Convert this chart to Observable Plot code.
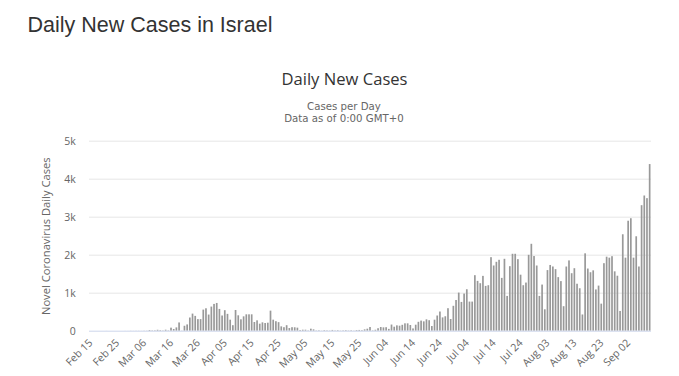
<!DOCTYPE html>
<html><head><meta charset="utf-8">
<script src="https://cdn.jsdelivr.net/npm/d3@7"></script>
<script src="https://cdn.jsdelivr.net/npm/@observablehq/plot@0.6"></script>
<style>
body{margin:0;background:#fff;}
#wrap{position:relative;width:679px;height:376px;overflow:hidden;}
#head{position:relative;height:130px;}
.t{position:absolute;white-space:nowrap;}
#title{left:27.5px;top:11.5px;font:21.5px/26px "Liberation Sans",Arial,sans-serif;color:#333;}
#ctitle{left:0;width:689px;text-align:center;top:68.5px;font:16.6px/20px "Open Sans",sans-serif;color:#333;}
.sub{left:0;width:688px;height:12px;text-align:center;font:10.2px/12px "DejaVu Sans",sans-serif;color:#666;}
#sub1{top:101px;}
#sub2{top:113px;}
#chart svg{display:block;}
</style></head>
<body>
<div id="wrap">
  <div id="head">
    <div class="t" id="title">Daily New Cases in Israel</div>
    <div class="t" id="ctitle">Daily New Cases</div>
    <div class="t sub" id="sub1">Cases per Day</div>
    <div class="t sub" id="sub2">Data as of 0:00 GMT+0</div>
  </div>
  <div id="chart"></div>
</div>
<script>
// Daily new cases by month (2020)
const febCases = [0,0,0,0,0,0,1,0,0,0,0,0,0,1,1]; // Feb 15-29
const marCases = [3,2,3,3,2,4,4,18,10,11,24,15,8,26,10,80,45,87,217,5,130,165,347,450,390,305,305,555,590,425,635];
const aprCases = [705,730,573,400,540,443,290,145,545,405,300,378,431,431,431,229,273,185,220,202,211,528,290,250,225,114,92,145,70,92];
const mayCases = [90,80,18,26,26,9,53,35,8,12,5,15,10,7,20,9,14,6,10,15,8,12,5,17,20,15,35,53,97,10,25];
const junCases = [65,97,88,92,48,162,105,141,132,155,194,194,150,60,158,234,266,246,299,276,123,290,400,505,350,380,592,308,655,808];
const julCases = [1003,757,977,1091,766,766,1461,1311,1250,1443,1179,1197,1935,1716,1813,1866,1390,1892,915,1698,2024,2024,1883,1474,1197,1267,1997,2287,1965,1716,915];
const augCases = [1214,563,1595,1730,1690,1620,1410,1305,645,1689,1850,1513,1645,1236,1117,427,2036,1636,1539,1588,1086,1187,712,1777,1948,1922,1961,1562,1447,519,2538];
const sepCases = [1922,2894,2960,1922,2485,1690,3303,3558,3488,4385]; // Sep 1-10

const xTickLabels = ["Feb 15","Feb 25","Mar 06","Mar 16","Mar 26","Apr 05","Apr 15","Apr 25","May 05","May 15","May 25","Jun 04","Jun 14","Jun 24","Jul 04","Jul 14","Jul 24","Aug 03","Aug 13","Aug 23","Sep 02"];
const yTicks = [0,1000,2000,3000,4000,5000];
const yTickLabels = ["0","1k","2k","3k","4k","5k"];

const cases = [...febCases,...marCases,...aprCases,...mayCases,...junCases,...julCases,...augCases,...sepCases];
const fmt = d3.utcFormat("%b %d");
const days = d3.utcDay.range(new Date(Date.UTC(2020,1,15)), new Date(Date.UTC(2020,8,11))).map(fmt);
const data = days.map((d,i) => ({day: d, cases: cases[i]}));

const chart = Plot.plot({
  width: 679,
  height: 246,
  marginTop: 10.7,
  marginBottom: 45.3,
  marginLeft: 89,
  marginRight: 28,
  style: {fontFamily: "'Open Sans', sans-serif", fontSize: "10.5px", color: "#666", background: "transparent"},
  x: {type: "band", domain: days, padding: 0, axis: null},
  y: {domain: [0, 5000], axis: null},
  marks: [
    Plot.gridY({ticks: yTicks.slice(1), stroke: "#e6e6e6", strokeOpacity: 1}),
    Plot.barY(data, {x: "day", y: "cases", fill: "#999", insetLeft: 0.5, insetRight: 0.5}),
    Plot.ruleY([0], {stroke: "#ccd6eb"}),
    Plot.axisY({ticks: yTicks, tickFormat: d => yTickLabels[yTicks.indexOf(d)], tickSize: 0, tickPadding: 13.7, label: null, fill: "#666"}),
    Plot.axisX({ticks: xTickLabels, tickRotate: -45, tickSize: 0, tickPadding: 10, label: null, fill: "#666"}),
    Plot.text(["Novel Coronavirus Daily Cases"], {frameAnchor: "left", dx: -43.3, rotate: -90, fill: "#666", fontSize: 11.2, textAnchor: "middle", lineAnchor: "middle"})
  ]
});
document.getElementById("chart").appendChild(chart);
</script>
</body></html>
